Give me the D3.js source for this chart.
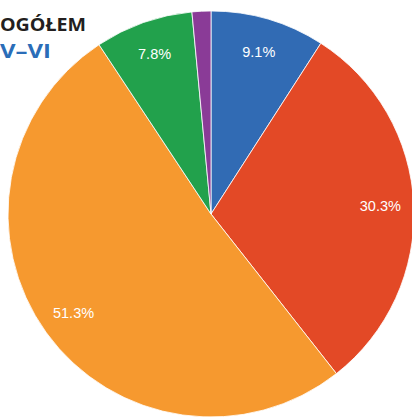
<!DOCTYPE html>
<html>
<head>
<meta charset="utf-8">
<script src="https://cdn.jsdelivr.net/npm/d3@7"></script>
<style>
  html, body { margin: 0; padding: 0; background: #fff; }
  svg { display: block; }
</style>
</head>
<body>
<div id="container"></div>
<script>
const width = 412;
const height = 417;

// data
const categories = ["A", "B", "C", "D", "E"];
const values = [9.1, 30.3, 51.3, 7.8, 1.5];
const labels = ["9.1%", "30.3%", "51.3%", "7.8%", ""];
const colors = ["#316bb4", "#e34926", "#f6992f", "#22a14c", "#8a3b97"];

const svg = d3.select("#container").append("svg")
  .attr("width", width)
  .attr("height", height);

const cx = 211, cy = 214, radius = 203;

const pie = d3.pie().sort(null).value(d => d.v);
const arcs = pie(categories.map((c, i) => ({ c: c, v: values[i], label: labels[i] })));

const arc = d3.arc().innerRadius(0).outerRadius(radius);
const labelArc = d3.arc().innerRadius(radius * 0.835).outerRadius(radius * 0.835);

const color = d3.scaleOrdinal().domain(categories).range(colors);

const g = svg.append("g").attr("transform", "translate(" + cx + "," + cy + ")");

g.selectAll("path")
  .data(arcs)
  .enter()
  .append("path")
  .attr("d", arc)
  .style("fill", d => color(d.data.c))
  .style("stroke", "rgba(255,255,255,0.8)")
  .style("stroke-width", 1);

g.selectAll("text")
  .data(arcs)
  .enter()
  .append("text")
  .attr("transform", d => "translate(" + labelArc.centroid(d) + ")")
  .attr("text-anchor", "middle")
  .attr("dy", "0.36em")
  .style("font-family", "'Liberation Sans', Arial, sans-serif")
  .style("font-size", "14.5px")
  .style("fill", "#fff")
  .text(d => d.data.label);

// title (cut off at left edge)
svg.append("text")
  .attr("x", 0)
  .attr("y", 30.5)
  .attr("textLength", 86)
  .attr("lengthAdjust", "spacingAndGlyphs")
  .style("font-family", "'Open Sans', sans-serif")
  .style("font-weight", "bold")
  .style("font-size", "18.5px")
  .style("fill", "#231f20")
  .text("OGÓŁEM");

svg.append("text")
  .attr("x", 0)
  .attr("y", 58)
  .attr("textLength", 51)
  .attr("lengthAdjust", "spacingAndGlyphs")
  .style("font-family", "'Open Sans', sans-serif")
  .style("font-weight", "bold")
  .style("font-size", "19.5px")
  .style("fill", "#2a6db8")
  .text("V–VI");
</script>
</body>
</html>
